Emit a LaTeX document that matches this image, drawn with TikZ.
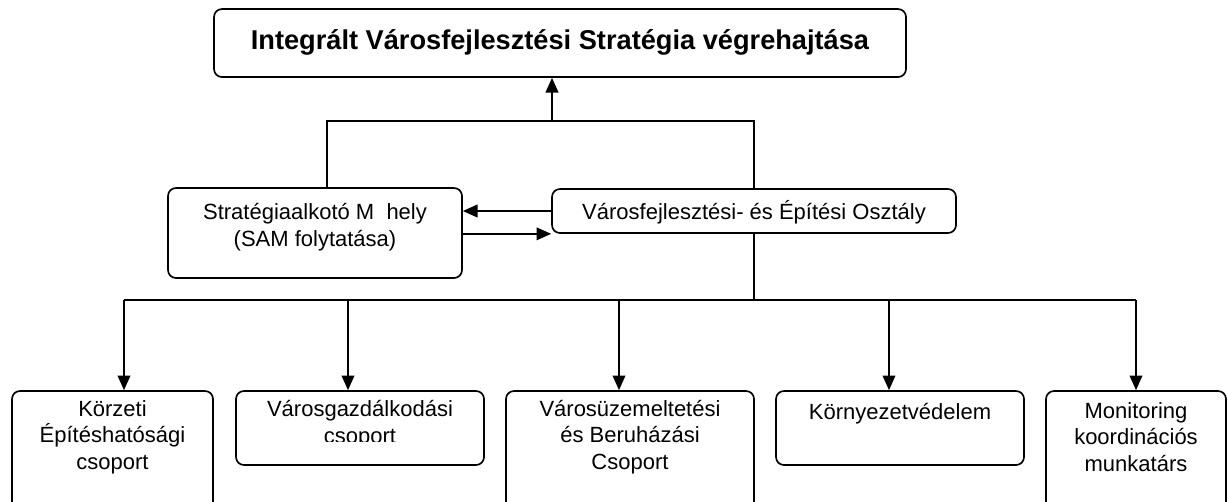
\documentclass[tikz,border=0pt]{standalone}
\usepackage{fontspec}
\setmainfont{Liberation Sans}
\usetikzlibrary{arrows.meta,positioning}

\begin{document}
\begin{tikzpicture}[x=0.75pt,y=0.75pt,yscale=-1,xscale=1,
	box/.style={draw,rounded corners=6pt,line width=1.25pt,inner sep=0pt},
	ttl/.style={font=\fontsize{20.4}{24}\selectfont\bfseries,inner sep=0pt},
	txt/.style={align=center,font=\fontsize{16.5}{19.8}\selectfont,inner sep=0pt},
	conn/.style={line width=1.25pt},
	arr/.style={conn,-{Triangle[length=11pt,width=9.5pt]}}]
	\path[use as bounding box] (0,0) rectangle (1227,501);
	
	%Rounded Rect: top
	\node[box,minimum width=519pt,minimum height=51pt] (ivs) at (560,43) {};
	\node[ttl,anchor=base] (ivs-t) at (560,49) {Integrált Városfejlesztési Stratégia végrehajtása};
	%Rounded Rect: SAM
	\node[box,minimum width=220.5pt,minimum height=67.5pt] (sam) at (315,233) {};
	\node[txt] (sam-t) at (315,227) {Stratégiaalkotó M\ \ hely\\(SAM folytatása)};
	%Rounded Rect: osztaly
	\node[box,minimum width=303pt,minimum height=33pt] (vfo) at (754,211) {};
	\node[txt] (vfo-t) at (754,212) {Városfejlesztési- és Építési Osztály};
	
	%Rounded Rect: groups
	\node[box,minimum width=150.75pt,minimum height=96.75pt] (keh) at (112.5,455.5) {};
	\node[txt] (keh-t) at (112.5,437) {Körzeti\\Építéshatósági\\csoport};
	\node[box,minimum width=186pt,minimum height=55.5pt] (vgc) at (360,428) {};
	\begin{scope}
		\clip (236,395) rectangle (484,441);
		\node[txt] (vgc-t) at (360,424) {Városgazdálkodási\\csoport};
	\end{scope}
	\node[box,minimum width=186pt,minimum height=96.75pt] (vbc) at (630,455.5) {};
	\node[txt] (vbc-t) at (630,437) {Városüzemeltetési\\és Beruházási\\Csoport};
	\node[box,minimum width=186pt,minimum height=55.5pt] (kvd) at (900,428) {};
	\node[txt] (kvd-t) at (900,414) {Környezetvédelem};
	\node[box,minimum width=135pt,minimum height=96.75pt] (mkm) at (1136,455.5) {};
	\node[txt] (mkm-t) at (1136,437) {Monitoring\\koordinációs\\munkatárs};
	
	%Straight Lines: upper
	\coordinate (jl) at (327,121);
	\coordinate (jm) at (552,121);
	\coordinate (jr) at (754,121);
	\draw[conn] (sam.north -| jl) -- (jl) -- (jr) -- (vfo.north);
	\draw[arr] (jm) -- (ivs.south -| jm);
	\draw[arr] (vfo.west) -- (vfo.west -| sam.east);
	\draw[arr] (sam.east |- vfo.south) -- (vfo.south west);
	
	%Straight Lines: lower
	\coordinate (d1) at (124,300);
	\coordinate (d2) at (348,300);
	\coordinate (d3) at (619,300);
	\coordinate (d4) at (889,300);
	\coordinate (d5) at (1136,300);
	\draw[conn] (vfo.south) -- (vfo.south |- d1);
	\draw[conn] (d1) -- (d5);
	\draw[arr] (d1) -- (keh.north -| d1);
	\draw[arr] (d2) -- (vgc.north -| d2);
	\draw[arr] (d3) -- (vbc.north -| d3);
	\draw[arr] (d4) -- (kvd.north -| d4);
	\draw[arr] (d5) -- (mkm.north -| d5);
	
\end{tikzpicture}
\end{document}
